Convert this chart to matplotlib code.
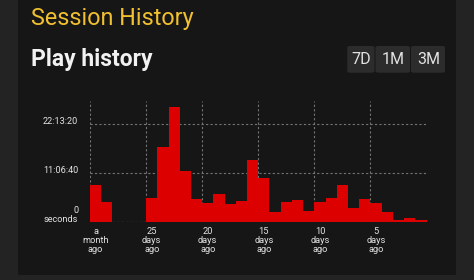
import matplotlib
matplotlib.use("Agg")
import matplotlib.pyplot as plt
from matplotlib.patches import Rectangle, FancyBboxPatch
from matplotlib.ticker import FixedLocator, FuncFormatter
import numpy as np

# Seconds played per day, oldest (a month ago) to today
play_seconds = [30100, 15900, 0, 0, 0, 19200, 61000, 93800, 41800, 18900,
                15600, 22500, 14800, 17000, 50600, 36100, 8200, 15900, 17500, 9000,
                15900, 19200, 30100, 11000, 18600, 15600, 8200, 1400, 2800, 1600]
day_labels = ["a\nmonth\nago", "25\ndays\nago", "20\ndays\nago",
              "15\ndays\nago", "10\ndays\nago", "5\ndays\nago"]
label_days = [0, 5, 10, 15, 20, 25]
y_ticks = [0, 40000, 80000]
range_buttons = ["7D", "1M", "3M"]

BG_OUTER = "#232323"
BG_PANEL = "#161616"
BAR_RED = "#dd0000"
GRID = "#747474"
TXT = "#e2e2e2"
FONT = "Roboto"


def fmt_seconds(v, pos=None):
    """ Seconds -> H:MM:SS, zero gets the 'seconds' word like the app does"""
    v = int(round(v))
    if v == 0:
        return "0\nseconds"
    h, rem = divmod(v, 3600)
    m, s = divmod(rem, 60)
    return f"{h}:{m:02d}:{s:02d}"


W, H = 474, 280
fig = plt.figure(figsize=(W / 100, H / 100), dpi=100, facecolor=BG_OUTER)

# dark card behind everything
fig.patches.append(Rectangle((17.7 / W, 1 - 275 / H), (456 - 17.7) / W, 275 / H,
                             transform=fig.transFigure, facecolor=BG_PANEL,
                             edgecolor="none", zorder=-5))

fig.text(31 / W, 1 - 25 / H, "Session History", color="#f0c030", fontsize=16.8,
         family=FONT, va="baseline", ha="left")
fig.text(31 / W, 1 - 65.7 / H, "Play history", color="#f2f2f2", fontsize=16.5,
         family=FONT, fontweight="bold", va="baseline", ha="left")

# range selector buttons
btn_edges = [347.3, 375.5, 411, 446]
for i, name in enumerate(range_buttons):
    x0, x1 = btn_edges[i], btn_edges[i + 1]
    fig.patches.append(FancyBboxPatch((x0 / W, 1 - 72.7 / H), (x1 - x0 - 1) / W, 26.7 / H,
                                      boxstyle="round,pad=0,rounding_size=0.006",
                                      transform=fig.transFigure, facecolor="#2c2c2c",
                                      edgecolor="none", zorder=-4))
    fig.text((x0 + x1) / 2 / W, 1 - 59.5 / H, name, color="#e2e2e2", fontsize=11.5,
             family=FONT, ha="center", va="center", zorder=2)

ax = fig.add_axes([90 / W, 1 - 221.7 / H, 336.5 / W, 120.7 / H], zorder=3)
ax.set_facecolor("none")

days = np.arange(len(play_seconds))
ax.bar(days, play_seconds, width=1.0, align="edge", color=BAR_RED, linewidth=0, zorder=2)

ax.set_xlim(0, len(play_seconds))
ax.set_ylim(0, 99000)

# gridlines on bar edges, labels centred on the bars
ax.xaxis.set_major_locator(FixedLocator(label_days))
ax.xaxis.set_major_formatter(FuncFormatter(lambda v, p: ""))
ax.xaxis.set_minor_locator(FixedLocator([d + 0.5 for d in label_days]))
ax.set_xticklabels(day_labels, minor=True)
ax.set_yticks(y_ticks)
ax.yaxis.set_major_formatter(FuncFormatter(fmt_seconds))

ax.tick_params(axis="x", which="both", length=0, pad=4, colors=TXT, labelsize=6.7)
ax.tick_params(axis="y", length=0, pad=8.5, colors=TXT, labelsize=6.6)
for lbl in ax.get_xticklabels(minor=True):
    lbl.set_family(FONT)
    lbl.set_linespacing(1.0)
for lbl in ax.get_yticklabels():
    lbl.set_family(FONT)
    lbl.set_linespacing(1.0)
    lbl.set_verticalalignment("baseline")

ax.grid(True, which="major", color=GRID, linestyle=(0, (2, 2)), linewidth=0.8, zorder=1)
ax.set_axisbelow(True)
for sp in ax.spines.values():
    sp.set_visible(False)
ax.axhline(0, color=GRID, linestyle=(0, (2, 2)), linewidth=0.8, zorder=3)

fig.savefig("out.png", dpi=100, facecolor=BG_OUTER)
